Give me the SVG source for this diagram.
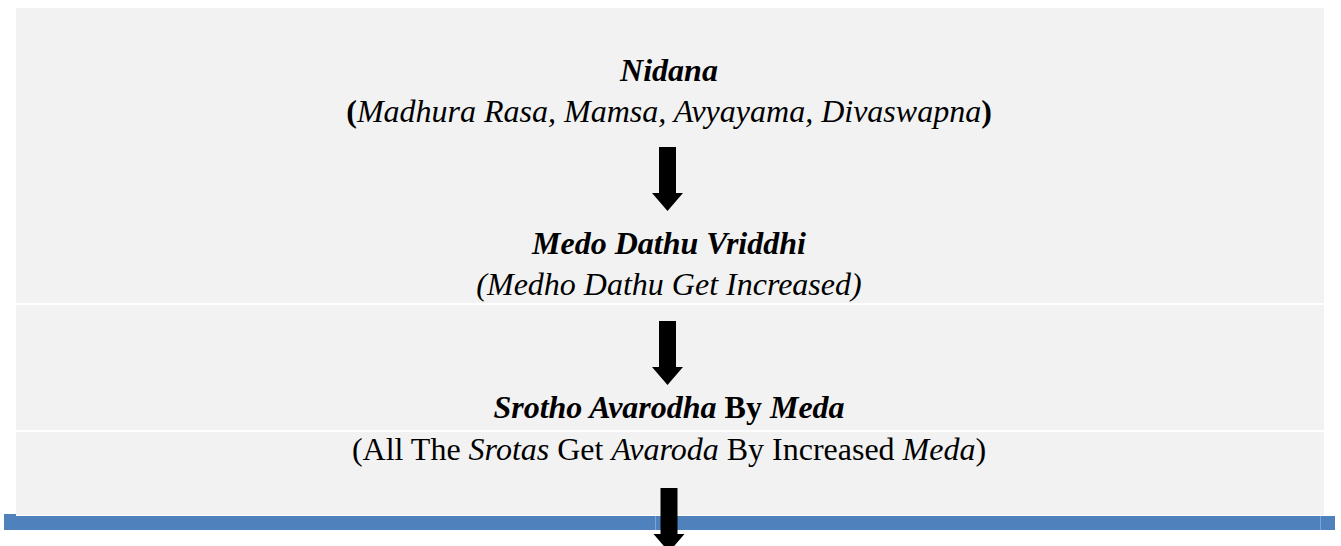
<svg xmlns="http://www.w3.org/2000/svg" width="1341" height="546" viewBox="0 0 1341 546">
<style>
.t{font-family:"Liberation Serif","Times New Roman",serif;font-size:32px;fill:#000;text-anchor:middle}
.bi{font-weight:bold;font-style:italic}
.i{font-style:italic}
.b{font-weight:bold}
.sep{stroke:#ffffff;stroke-width:2}
.cell{stroke:#7fa3d3;stroke-width:1}
</style>
<defs>
<path id="arr" d="M-8.5,0 H8.5 V46 H15.5 L0,64 L-15.5,46 H-8.5 Z" fill="#000"/>
</defs>
<rect x="0" y="0" width="1341" height="546" fill="#ffffff"/>
<g id="background">
<rect x="16" y="8" width="1308" height="507" fill="#f2f2f2"/>
<line class="sep" x1="16" y1="304" x2="1324" y2="304"/>
<line class="sep" x1="16" y1="431" x2="1324" y2="431"/>
<rect x="4" y="514" width="12" height="16" fill="#4f81bd"/>
<rect x="4" y="516" width="1331" height="14" fill="#4f81bd"/>
<line class="cell" x1="655.5" y1="516" x2="655.5" y2="530"/>
<line class="cell" x1="670.5" y1="516" x2="670.5" y2="530"/>
<line class="cell" x1="1320.5" y1="516" x2="1320.5" y2="530"/>
</g>
<g id="node-nidana">
<text class="t bi" x="669" y="81">Nidana</text>
<text class="t" x="669" y="122"><tspan class="b">(</tspan><tspan class="i">Madhura Rasa, Mamsa, Avyayama, Divaswapna</tspan><tspan class="b">)</tspan></text>
</g>
<g id="node-medo">
<text class="t bi" x="669" y="254">Medo Dathu Vriddhi</text>
<text class="t i" x="669" y="295">(Medho Dathu Get Increased)</text>
</g>
<g id="node-srotho">
<text class="t" x="669" y="418"><tspan class="bi">Srotho Avarodha</tspan><tspan class="b"> By </tspan><tspan class="bi">Meda</tspan></text>
<text class="t" x="669" y="460">(All The <tspan class="i">Srotas</tspan> Get <tspan class="i">Avaroda</tspan> By Increased <tspan class="i">Meda</tspan>)</text>
</g>
<g id="connectors">
<use href="#arr" x="667.5" y="147"/>
<use href="#arr" x="667.5" y="321"/>
<use href="#arr" x="669" y="488"/>
</g>
</svg>
